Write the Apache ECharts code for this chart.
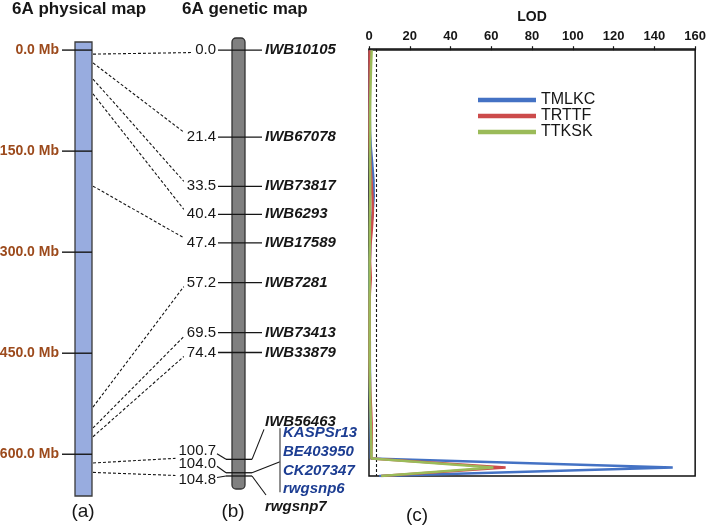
<!DOCTYPE html>
<html><head><meta charset="utf-8">
<script src="https://cdn.jsdelivr.net/npm/echarts@6/dist/echarts.min.js"></script>
<style>html,body{margin:0;padding:0;background:#fff}#c{width:709px;height:529px}</style>
</head><body><div id="c"></div>
<script>
// ---------------- data ----------------
const physTickMb = [0, 150, 300, 450, 600];
const physTickLabels = ['0.0 Mb', '150.0 Mb', '300.0 Mb', '450.0 Mb', '600.0 Mb'];
const physBarMb = [-12, 662];
const genCm = [0.0, 21.4, 33.5, 40.4, 47.4, 57.2, 69.5, 74.4, 100.7, 104.0, 104.8];
const genCmLabels = ['0.0', '21.4', '33.5', '40.4', '47.4', '57.2', '69.5', '74.4', '100.7', '104.0', '104.8'];
const genMarkers = ['IWB10105', 'IWB67078', 'IWB73817', 'IWB6293', 'IWB17589', 'IWB7281', 'IWB73413', 'IWB33879',
  'IWB56463', ['KASPSr13', 'BE403950', 'CK207347', 'rwgsnp6'], 'rwgsnp7'];
const genBarCm = [-3, 108];
const linkMb = [6, 19, 43, 65, 202, 530, 561, 574, 613, 627];
const linkCm = [0.0, 21.4, 33.5, 40.4, 47.4, 57.2, 69.5, 74.4, 100.7, 104.8];
const seriesNames = ['TMLKC', 'TRTTF', 'TTKSK'];
const lodCm =    [0, 4, 8, 12, 16, 20, 24, 28, 32, 36, 40, 44, 48, 52, 56, 60, 64, 68, 72, 76, 80, 84, 88, 92, 96, 100.5, 102.7, 104.8];
const lodTMLKC = [0.6, 0.5, 0.4, 0.4, 0.4, 0.5, 0.9, 1.6, 2.2, 2.3, 1.8, 1.0, 0.6, 0.4, 0.3, 0.3, 0.3, 0.3, 0.4, 0.4, 0.5, 0.5, 0.6, 0.7, 0.8, 0.9, 149, 5.0];
const lodTRTTF = [0.3, 0.3, 0.3, 0.3, 0.3, 0.3, 0.4, 0.7, 1.2, 1.7, 1.9, 1.4, 0.7, 0.5, 0.9, 0.4, 0.3, 0.3, 0.3, 0.3, 0.4, 0.6, 1.0, 1.3, 1.3, 1.1, 67, 6.0];
const lodTTKSK = [1.3, 1.0, 0.8, 0.6, 0.5, 0.5, 0.5, 0.5, 0.6, 0.6, 0.5, 0.4, 0.4, 0.3, 0.3, 0.3, 0.3, 0.3, 0.3, 0.3, 0.4, 0.5, 0.7, 0.9, 1.1, 1.2, 61, 6.0];
const lodThreshold = 3.5;
const panelLabels = ['(a)', '(b)', '(c)'];
const titles = ['6A physical map', '6A genetic map'];

// ---------------- layout / style ----------------
const FONT = "'Liberation Sans', Arial, Helvetica, sans-serif";
const VAL_FONT = '15px ' + FONT;
const NAME_FONT = 'italic bold 15px ' + FONT;
const MB_FONT = 'bold 14px ' + FONT;
const BROWN = '#9c4a1c';
const NAVY = '#1c3d92';
const INK = '#161616';
const colors = ['#4472C4', '#CC4B4B', '#9BBB59'];
const P = { physL: 75, physR: 92, physTickL: 62, physLabelR: 59,
  genL: 232, genR: 245, genTickL: 218, genTickR: 262, genValR: 216, genNameL: 265 };
const cluster = {
  8: { valDy: -8, tickL: 226, tickR: 252, name: { x: 265, dy: -37 }, lead: { x: 264, dy: -30 } },
  9: { valDy: -9, tickL: 226, tickR: 252, group: { x: 283, dy: -39.6, step: 18.7, barX: 280 }, lead: { x: 280, dy: -11 } },
  10: { valDy: 4, tickL: 226, tickR: 252, name: { x: 265, dy: 31 }, lead: { x: 266, dy: 19 } }
};

function T(text, x, y, align, font, fill) {
  return { type: 'text', style: { text: text, x: x, y: y, align: align, verticalAlign: 'middle', font: font, fill: fill || INK } };
}
function L(x1, y1, x2, y2, stroke, w, dash) {
  const s = { stroke: stroke || INK, lineWidth: w || 1.3 };
  if (dash) s.lineDash = dash;
  return { type: 'line', shape: { x1: x1, y1: y1, x2: x2, y2: y2 }, style: s };
}

function renderPhysBar(params, api) {
  const y1 = api.coord([0, api.value(1)])[1];
  const y2 = api.coord([0, api.value(2)])[1];
  return { type: 'rect', shape: { x: P.physL, y: y1, width: P.physR - P.physL, height: y2 - y1 },
    style: { fill: '#98acdf', stroke: '#3a3a3a', lineWidth: 1.3 } };
}
function renderPhysTick(params, api) {
  const i = params.dataIndex;
  const y = api.coord([0, api.value(1)])[1];
  return { type: 'group', children: [
    L(P.physTickL, y, P.physR, y, INK, 1.4),
    T(physTickLabels[i], P.physLabelR, y, 'right', MB_FONT, BROWN)
  ] };
}
function renderGenBar(params, api) {
  const y1 = api.coord([0, api.value(1)])[1];
  const y2 = api.coord([0, api.value(2)])[1];
  return { type: 'rect', shape: { x: P.genL, y: y1, width: P.genR - P.genL, height: y2 - y1, r: 4 },
    style: { fill: '#808080', stroke: '#333', lineWidth: 1.3 } };
}
function renderGenMarker(params, api) {
  const i = params.dataIndex;
  const y = api.coord([0, api.value(1)])[1];
  const c = cluster[i];
  const ch = [];
  if (!c) {
    ch.push(L(P.genTickL, y, P.genTickR, y));
    ch.push(T(genCmLabels[i], P.genValR, y, 'right', VAL_FONT));
    ch.push(T(genMarkers[i], P.genNameL, y, 'left', NAME_FONT));
  } else {
    const ly = y + c.valDy;
    ch.push(L(c.tickL, y, c.tickR, y));
    ch.push(T(genCmLabels[i], P.genValR, ly, 'right', VAL_FONT));
    ch.push(L(P.genValR + 1, ly + Math.sign(y - ly) * 2.5, c.tickL, y, INK, 1.1));
    ch.push(L(c.tickR, y, c.lead.x, y + c.lead.dy, INK, 1.1));
    if (c.name) {
      ch.push(T(genMarkers[i], c.name.x, y + c.name.dy, 'left', NAME_FONT));
    } else {
      const g = c.group, names = genMarkers[i];
      const top = y + g.dy, bot = top + g.step * (names.length - 1);
      ch.push(L(g.barX, top - 5, g.barX, bot + 3, '#555', 1.3));
      names.forEach(function (n, k) { ch.push(T(n, g.x, top + g.step * k, 'left', NAME_FONT, NAVY)); });
    }
  }
  return { type: 'group', children: ch };
}

const lodSets = [lodTMLKC, lodTRTTF, lodTTKSK];
const lineSeries = seriesNames.map(function (name, s) {
  const ser = {
    type: 'line', name: name, xAxisIndex: 2, yAxisIndex: 2,
    data: lodCm.map(function (c, i) { return [lodSets[s][i], c]; }),
    showSymbol: false, symbol: 'none', silent: true,
    lineStyle: { width: 2.5, color: colors[s] }, itemStyle: { color: colors[s] },
    emphasis: { disabled: true }, z: 3 + s
  };
  if (s === 0) {
    ser.markLine = { silent: true, symbol: 'none', label: { show: false },
      lineStyle: { type: [3, 2], color: INK, width: 1.1 }, data: [{ xAxis: lodThreshold }] };
  }
  return ser;
});

const chart = echarts.init(document.getElementById('c'));
const option = {
  animation: false,
  backgroundColor: '#fff',
  textStyle: { fontFamily: FONT },
  grid: [
    { left: 0, right: 0, top: 42, height: 454 },
    { left: 0, right: 0, top: 38, height: 451 },
    { left: 369, right: 11, top: 49, bottom: 53, show: true, borderColor: '#111', borderWidth: 1.5 }
  ],
  xAxis: [
    { gridIndex: 0, type: 'value', min: 0, max: 1, show: false },
    { gridIndex: 1, type: 'value', min: 0, max: 1, show: false },
    { gridIndex: 2, type: 'value', min: 0, max: 160, interval: 20, position: 'top',
      name: 'LOD', nameLocation: 'middle', nameGap: 25,
      nameTextStyle: { fontWeight: 'bold', fontSize: 14, color: INK, fontFamily: FONT },
      axisLine: { show: true, lineStyle: { color: INK, width: 1.5 } },
      axisTick: { show: true, length: 4, lineStyle: { color: INK, width: 1.2 } },
      axisLabel: { fontWeight: 'bold', fontSize: 13, color: INK, margin: 6, fontFamily: FONT },
      splitLine: { show: false } }
  ],
  yAxis: [
    { gridIndex: 0, type: 'value', min: -12, max: 662, inverse: true, show: false },
    { gridIndex: 1, type: 'value', min: -3, max: 108, inverse: true, show: false },
    { gridIndex: 2, type: 'value', min: -0.3, max: 104.8, inverse: true, show: false }
  ],
  legend: {
    data: seriesNames, orient: 'vertical', left: 478, top: 92, padding: 0,
    icon: 'rect', itemWidth: 58, itemHeight: 4.5, itemGap: 0, selectedMode: false,
    textStyle: { fontSize: 16, lineHeight: 13.5, color: INK, fontFamily: FONT }
  },
  series: [
    { type: 'custom', xAxisIndex: 0, yAxisIndex: 0, renderItem: renderPhysBar, silent: true,
      data: [[0, physBarMb[0], physBarMb[1]]] },
    { type: 'custom', xAxisIndex: 0, yAxisIndex: 0, renderItem: renderPhysTick, silent: true,
      data: physTickMb.map(function (v) { return [0, v]; }) },
    { type: 'custom', xAxisIndex: 1, yAxisIndex: 1, renderItem: renderGenBar, silent: true,
      data: [[0, genBarCm[0], genBarCm[1]]] },
    { type: 'custom', xAxisIndex: 1, yAxisIndex: 1, renderItem: renderGenMarker, silent: true,
      data: genCm.map(function (v) { return [0, v]; }) }
  ].concat(lineSeries)
};
chart.setOption(option);

// connectors between physical and genetic maps, positioned through the axes
const ctx = document.createElement('canvas').getContext('2d');
ctx.font = VAL_FONT;
const graphics = [];
linkMb.forEach(function (mb, k) {
  const i = genCm.indexOf(linkCm[k]);
  const sy = chart.convertToPixel({ yAxisIndex: 0 }, mb);
  const ty = chart.convertToPixel({ yAxisIndex: 1 }, linkCm[k]);
  const ly = ty + ((cluster[i] && cluster[i].valDy) || 0);
  const ex = P.genValR - ctx.measureText(genCmLabels[i]).width - 3;
  const dy = sy - ly;
  const off = dy > 15 ? 4 : (dy < -15 ? -5 : dy * 0.6);
  graphics.push(Object.assign(L(P.physR + 1, sy, ex, ly + off, INK, 1.1, [3, 2]), { silent: true }));
});
graphics.push(Object.assign(T(titles[0], 12, 9, 'left', 'bold 17px ' + FONT), { silent: true }));
graphics.push(Object.assign(T(titles[1], 182, 9, 'left', 'bold 17px ' + FONT), { silent: true }));
const panelX = [83, 233, 417], panelY = [512, 512, 516];
panelLabels.forEach(function (t, k) {
  graphics.push(Object.assign(T(t, panelX[k], panelY[k], 'center', '19px ' + FONT), { silent: true }));
});
chart.setOption({ graphic: graphics });
</script>
</body></html>
